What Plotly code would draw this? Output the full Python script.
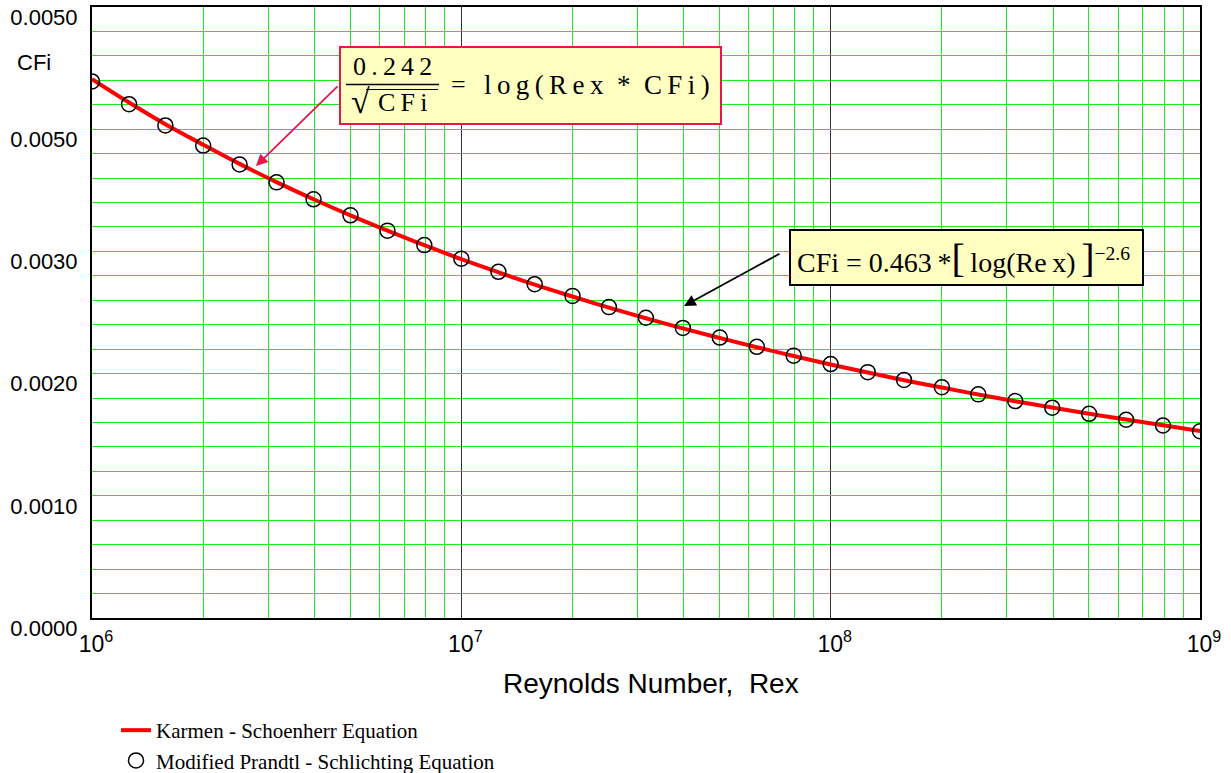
import plotly.graph_objects as go

# Reynolds numbers (10^6 ... 10^9, ten points per decade)
rex = [
    1.00e6, 1.26e6, 1.58e6, 2.00e6, 2.51e6, 3.16e6, 3.98e6, 5.01e6, 6.31e6, 7.94e6,
    1.00e7, 1.26e7, 1.58e7, 2.00e7, 2.51e7, 3.16e7, 3.98e7, 5.01e7, 6.31e7, 7.94e7,
    1.00e8, 1.26e8, 1.58e8, 2.00e8, 2.51e8, 3.16e8, 3.98e8, 5.01e8, 6.31e8, 7.94e8,
    1.00e9,
]

# Karman - Schoenherr skin friction coefficient
cfi_karman = [
    0.004410, 0.004218, 0.004040, 0.003873, 0.003716, 0.003567, 0.003427, 0.003295, 0.003170, 0.003051,
    0.002936, 0.002829, 0.002728, 0.002631, 0.002540, 0.002453, 0.002370, 0.002291, 0.002216, 0.002144,
    0.002074, 0.002009, 0.001946, 0.001886, 0.001829, 0.001774, 0.001722, 0.001672, 0.001624, 0.001578,
    0.001531,
]

# Modified Prandtl - Schlichting skin friction coefficient
cfi_schlichting = [
    0.004391, 0.004205, 0.004031, 0.003866, 0.003711, 0.003565, 0.003426, 0.003295, 0.003170, 0.003052,
    0.002940, 0.002833, 0.002732, 0.002636, 0.002544, 0.002457, 0.002374, 0.002295, 0.002219, 0.002147,
    0.002078, 0.002012, 0.001948, 0.001888, 0.001830, 0.001775, 0.001721, 0.001671, 0.001622, 0.001575,
    0.001528,
]

y_tickvals = [0.0, 0.001, 0.002, 0.003, 0.004, 0.005]
y_ticktext = ["0.0000", "0.0010", "0.0020", "0.0030", "0.0050", "0.0050"]
x_tickvals = [1e6, 1e7, 1e8, 1e9]
x_ticktext = ["10<sup>6</sup>", "10<sup>7</sup>", "10<sup>8</sup>", "10<sup>9</sup>"]
x_minor = [m * 10 ** e for e in (6, 7, 8) for m in range(2, 10)]

W, H = 1231, 773
ML, MR, MT, MB = 92, 31, 7, 155
PW, PH = W - ML - MR, H - MT - MB


def px_x(p):
    return (p - ML) / PW


def px_y(p):
    return (H - MB - p) / PH


GREEN = "#1EEB1E"
YELLOW = "#FFFFC2"
BOX_RED = "#E8174A"
SERIF = "Liberation Serif, Times New Roman, serif"
SANS = "Liberation Sans, Arial, sans-serif"
TS = "\u2009"   # thin space used for the spaced-out equation lettering
EN = "\u2002"


def spaced(s):
    return TS.join(s)


fig = go.Figure()
fig.add_trace(go.Scatter(
    x=rex, y=cfi_karman, mode="lines", name="Karmen - Schoenherr Equation",
    line=dict(color="#FF0000", width=4, shape="spline"),
))
fig.add_trace(go.Scatter(
    x=rex, y=cfi_schlichting, mode="markers", name="Modified Prandtl - Schlichting Equation",
    marker=dict(symbol="circle-open", size=15, color="black", line=dict(width=1.5, color="black")),
))

shapes = [
    # equation boxes
    dict(type="rect", xref="paper", yref="paper", x0=px_x(340), x1=px_x(721), y0=px_y(47), y1=px_y(124),
         fillcolor=YELLOW, line=dict(color=BOX_RED, width=2), layer="above"),
    dict(type="rect", xref="paper", yref="paper", x0=px_x(790), x1=px_x(1143), y0=px_y(230), y1=px_y(285),
         fillcolor=YELLOW, line=dict(color="black", width=2), layer="above"),
    # fraction bar and radical overline
    dict(type="line", xref="paper", yref="paper", x0=px_x(346), x1=px_x(439), y0=px_y(84.5), y1=px_y(84.5),
         line=dict(color="black", width=1.5), layer="above"),
    dict(type="line", xref="paper", yref="paper", x0=px_x(366), x1=px_x(438), y0=px_y(89.5), y1=px_y(89.5),
         line=dict(color="black", width=1.2), layer="above"),
]


def label(x, y, text, size, family=SERIF, xanchor="left"):
    return dict(xref="paper", yref="paper", x=px_x(x), y=px_y(y), xanchor=xanchor, yanchor="middle",
                text=text, showarrow=False, font=dict(family=family, size=size, color="black"))


annotations = [
    # arrows
    dict(xref="paper", yref="paper", x=px_x(256), y=px_y(166), ax=83, ay=-81, text="",
         showarrow=True, arrowhead=2, arrowsize=1.3, arrowwidth=1.8, arrowcolor=BOX_RED, standoff=0),
    dict(xref="paper", yref="paper", x=px_x(684), y=px_y(306), ax=97, ay=-53, text="",
         showarrow=True, arrowhead=2, arrowsize=1.3, arrowwidth=1.8, arrowcolor="black", standoff=0),
    # Karman - Schoenherr equation
    label(351, 67, spaced("0.242"), 26),
    label(349, 102, "√", 34),
    label(376, 103, spaced("CFi"), 26),
    label(458, 85, "=", 26, xanchor="center"),
    label(482, 85, spaced("log(Rex") + EN + "*" + EN + spaced("CFi)"), 27),
    # Prandtl - Schlichting equation
    label(795, 258,
          "CFi = 0.463" + TS + "*<span style='font-size:40px'>[</span>" + TS + "log(Re" + TS + "x)"
          + TS + "<span style='font-size:40px'>]</span><sup>−2.6</sup>", 28),
    # axis labels
    label(15, 62, "CFi", 22, family=SANS),
    label(651, 683, "Reynolds Number,\u00a0 Rex", 28, family=SANS, xanchor="center"),
]

fig.update_layout(
    width=W, height=H,
    margin=dict(l=ML, r=MR, t=MT, b=MB, autoexpand=False),
    paper_bgcolor="white", plot_bgcolor="white",
    shapes=shapes, annotations=annotations,
    showlegend=True,
    legend=dict(x=px_x(116), y=px_y(710), xanchor="left", yanchor="top",
                font=dict(family=SERIF, size=21, color="black"),
                bgcolor="rgba(0,0,0,0)", itemwidth=30, tracegroupgap=0),
)

fig.update_xaxes(
    type="log", range=[6, 9], tickmode="array", tickvals=x_tickvals, ticktext=x_ticktext,
    showgrid=True, gridcolor="#333333", gridwidth=1,
    minor=dict(tickvals=x_minor, showgrid=True, gridcolor=GREEN, gridwidth=1, ticks=""),
    showline=True, linecolor="black", linewidth=2, mirror=True,
    ticks="", ticklabelstandoff=4, ticklabelshift=4,
    tickfont=dict(family=SANS, size=23, color="black"),
    zeroline=False,
)
fig.update_yaxes(
    range=[0, 0.005], tickmode="array", tickvals=y_tickvals, ticktext=y_ticktext,
    showgrid=True, gridcolor=GREEN, gridwidth=1,
    minor=dict(tick0=0, dtick=0.0002, showgrid=True, gridcolor=GREEN, gridwidth=1, ticks=""),
    showline=True, linecolor="black", linewidth=2, mirror=True,
    ticks="", ticklabelstandoff=8, ticklabelshift=10,
    tickfont=dict(family=SANS, size=22, color="black"),
    zeroline=False,
)

fig.write_html("out.html")
